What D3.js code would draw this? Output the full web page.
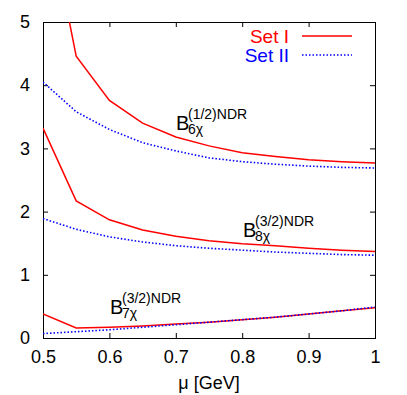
<!DOCTYPE html>
<html>
<head>
<meta charset="utf-8">
<script src="https://d3js.org/d3.v7.min.js"></script>
<style>
  body { margin: 0; background: #fff; }
  svg { display: block; font-family: "Liberation Sans", Arial, sans-serif; }
</style>
</head>
<body>
<svg width="407" height="395"></svg>
<script>
// Data
var mu = [0.5, 0.55, 0.6, 0.65, 0.7, 0.75, 0.8, 0.85, 0.9, 0.95, 1.0];

var b6SetI  = [7.1, 4.46, 3.76, 3.40, 3.18, 3.04, 2.93, 2.87, 2.82, 2.79, 2.77];
var b6SetII = [4.05, 3.58, 3.30, 3.09, 2.96, 2.85, 2.79, 2.75, 2.72, 2.70, 2.69];
var b8SetI  = [3.32, 2.17, 1.87, 1.71, 1.61, 1.54, 1.49, 1.46, 1.42, 1.39, 1.37];
var b8SetII = [1.89, 1.72, 1.60, 1.52, 1.46, 1.42, 1.39, 1.36, 1.34, 1.32, 1.31];
var b7SetI  = [0.38, 0.16, 0.17, 0.19, 0.22, 0.25, 0.29, 0.33, 0.38, 0.43, 0.48];
var b7SetII = [0.07, 0.10, 0.13, 0.17, 0.21, 0.25, 0.29, 0.33, 0.38, 0.43, 0.49];

var xTicks = [0.5, 0.6, 0.7, 0.8, 0.9, 1];
var yTicks = [0, 1, 2, 3, 4, 5];
var legendLabels = ["Set I", "Set II"];

// The svg
var svg = d3.select("svg");
var mLeft = 43, mRight = 375, mTop = 22, mBottom = 338;
var font = "Liberation Sans, Arial, sans-serif";

var x = d3.scaleLinear().domain([0.5, 1]).range([mLeft, mRight]);
var y = d3.scaleLinear().domain([0, 5]).range([mBottom, mTop]);

svg.append("clipPath").attr("id", "plotclip")
    .append("rect")
    .attr("x", mLeft).attr("y", mTop)
    .attr("width", mRight - mLeft).attr("height", mBottom - mTop);

// axes with inward ticks, mirrored on all four sides
var tickLen = 5;
svg.append("g")
    .attr("transform", "translate(0," + mBottom + ")")
    .call(d3.axisBottom(x).tickValues(xTicks).tickSizeInner(-tickLen).tickSizeOuter(0)
        .tickPadding(12).tickFormat(function (d) { return d === 1 ? "1" : d3.format(".1f")(d); }))
    .call(function (g) { g.select(".domain").remove(); });
svg.append("g")
    .attr("transform", "translate(0," + mTop + ")")
    .call(d3.axisTop(x).tickValues(xTicks).tickSizeInner(-tickLen).tickSizeOuter(0).tickFormat(""))
    .call(function (g) { g.select(".domain").remove(); });
svg.append("g")
    .attr("transform", "translate(" + mLeft + ",0)")
    .call(d3.axisLeft(y).tickValues(yTicks).tickSizeInner(-tickLen).tickSizeOuter(0)
        .tickPadding(13).tickFormat(d3.format("d")))
    .call(function (g) { g.select(".domain").remove(); });
svg.append("g")
    .attr("transform", "translate(" + mRight + ",0)")
    .call(d3.axisRight(y).tickValues(yTicks).tickSizeInner(-tickLen).tickSizeOuter(0).tickFormat(""))
    .call(function (g) { g.select(".domain").remove(); });

svg.selectAll(".tick text")
    .attr("font-family", font)
    .attr("font-size", 18)
    .attr("fill", "#000");
svg.selectAll(".tick line").attr("stroke", "#000");

// frame
svg.append("rect")
    .attr("x", mLeft).attr("y", mTop)
    .attr("width", mRight - mLeft).attr("height", mBottom - mTop)
    .attr("fill", "none").attr("stroke", "#000").attr("stroke-width", 1)
    .attr("shape-rendering", "crispEdges");

// curves
var line = d3.line()
    .x(function (d) { return x(d[0]); })
    .y(function (d) { return y(d[1]); });

var series = [
    { vals: b6SetI, set: 0 }, { vals: b6SetII, set: 1 },
    { vals: b8SetI, set: 0 }, { vals: b8SetII, set: 1 },
    { vals: b7SetI, set: 0 }, { vals: b7SetII, set: 1 }
];
var colors = ["#ff0000", "#0000ff"];
var dashes = [null, "1.5,2"];

svg.append("g")
    .attr("clip-path", "url(#plotclip)")
    .selectAll("path")
    .data(series)
    .enter()
    .append("path")
    .attr("d", function (s) { return line(d3.zip(mu, s.vals)); })
    .attr("fill", "none")
    .attr("stroke", function (s) { return colors[s.set]; })
    .attr("stroke-width", function (s) { return s.set === 0 ? 1.5 : 1.6; })
    .attr("stroke-dasharray", function (s) { return dashes[s.set]; });

// curve labels: B with subscript and superscript
function bLabel(xb, yb, sub, sup) {
    var t = svg.append("g").attr("font-family", font);
    t.append("text").attr("x", xb).attr("y", yb).attr("font-size", 20).text("B");
    t.append("text").attr("x", xb + 12).attr("y", yb - 11).attr("font-size", 14).text(sup);
    t.append("text").attr("x", xb + 12).attr("y", yb + 4).attr("font-size", 14).text(sub);
}
bLabel(176, 130, "6\u03c7", "(1/2)NDR");
bLabel(243, 237, "8\u03c7", "(3/2)NDR");
bLabel(110, 314, "7\u03c7", "(3/2)NDR");

// legend
var legend = svg.append("g").attr("font-family", font);
legendLabels.forEach(function (lab, i) {
    var ly = 36 + i * 19;
    legend.append("text")
        .attr("x", 289).attr("y", ly + 7)
        .attr("text-anchor", "end")
        .attr("font-size", 19)
        .attr("fill", colors[i])
        .text(lab);
    legend.append("line")
        .attr("x1", 302).attr("x2", 352)
        .attr("y1", ly).attr("y2", ly)
        .attr("stroke", colors[i])
        .attr("stroke-width", i === 0 ? 1.5 : 1.6)
        .attr("stroke-dasharray", dashes[i]);
});

// x axis title
svg.append("text")
    .attr("x", (mLeft + mRight) / 2).attr("y", 389)
    .attr("text-anchor", "middle")
    .attr("font-family", font)
    .attr("font-size", 18)
    .text("\u03bc [GeV]");
</script>
</body>
</html>
